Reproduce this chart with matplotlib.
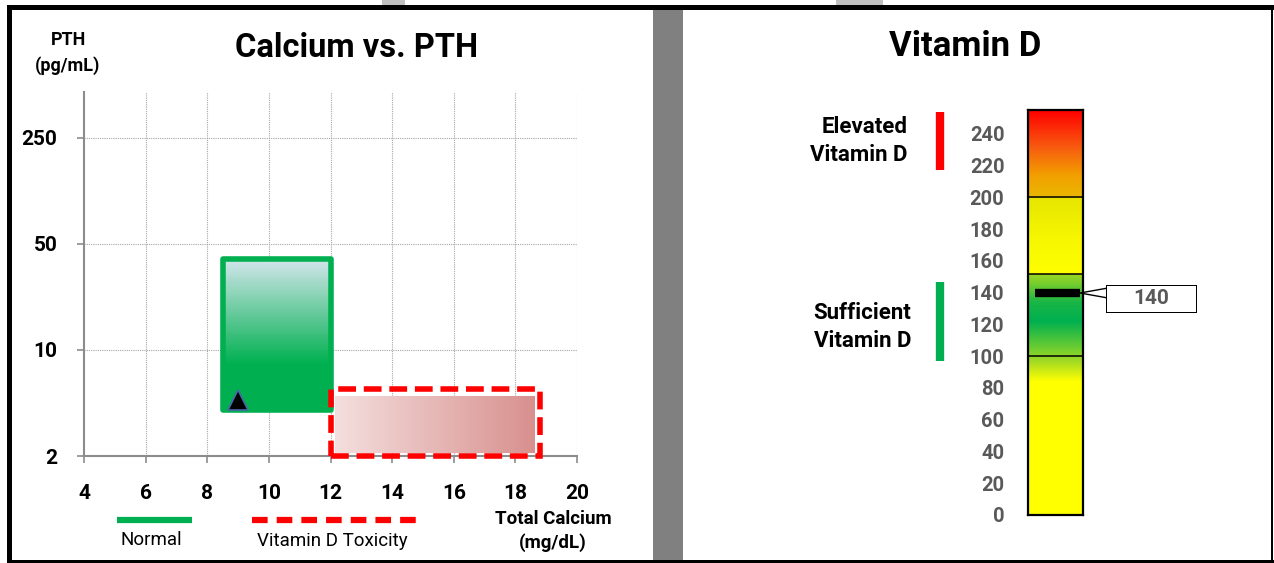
import numpy as np
import matplotlib.pyplot as plt
from matplotlib.patches import Rectangle, Polygon
from matplotlib.lines import Line2D
from matplotlib.colors import to_rgb
import matplotlib.transforms as mtransforms

plt.rcParams['font.family'] = ['Roboto', 'DejaVu Sans']

## Data
ca_ticks = [4, 6, 8, 10, 12, 14, 16, 18, 20]
pth_ticks = [2, 10, 50, 250]
normal_ca = (8.5, 12.0)
normal_pth = (4.0, 40.0)
tox_ca = (12.0, 18.8)
tox_pth = (2.0, 5.5)
patient_ca = 9.0
patient_pth = 4.7

vitd_ticks = list(range(0, 241, 20))
vitd_max = 255
vitd_lines = [100, 152, 200]
vitd_value = 140
elevated_range = (217, 254)
sufficient_range = (97, 147)
# gradient stops of the gauge (value, colour)
grad_vals = [0, 84, 96, 108, 122, 134, 146, 151.9, 152.1, 175, 199.9, 200.1, 214, 232, 255]
grad_cols = ['#ffff00', '#ffff00', '#a8dc22', '#5ac836', '#00b050', '#18b646', '#78ce2c',
             '#9cd822', '#ffff00', '#f6f600', '#e6e600', '#eab800', '#f2a000', '#f85a10', '#ff0000']

W, H = 1274, 563
fig = plt.figure(figsize=(W / 100, H / 100), dpi=100)


def fx(x):
    return x / W


def fy(y):
    return 1 - y / H


def frect(x0, y0, x1, y1, color, z=10):
    fig.add_artist(Rectangle((fx(x0), fy(y1)), fx(x1) - fx(x0), fy(y0) - fy(y1),
                             transform=fig.transFigure, color=color, lw=0, zorder=z))


def mix(c1, c2, t):
    a, b = np.array(to_rgb(c1)), np.array(to_rgb(c2))
    return tuple(a + (b - a) * t)


GRID = '#a6a6a6'
AXC = '#8c8c8c'
DARK = '#595959'

# ---------------- left chart ----------------
ax = fig.add_axes([fx(84), fy(456), fx(577) - fx(84), fy(92) - fy(456)])
ax.set_yscale('log')
ax.set_xlim(4, 20)
ax.set_ylim(2, 500)
ax.set_xticks(ca_ticks)
ax.set_xticklabels([str(v) for v in ca_ticks], fontsize=15, fontweight='bold')
ax.set_yticks(pth_ticks)
ax.set_yticklabels([str(v) for v in pth_ticks], fontsize=15, fontweight='bold')
ax.yaxis.set_minor_locator(plt.NullLocator())
ax.tick_params(axis='x', length=5, width=1.2, color=AXC, pad=15)
ax.tick_params(axis='y', length=5, width=1.2, color=AXC, pad=14)
for s in ['top', 'right']:
    ax.spines[s].set_visible(False)
for s in ['left', 'bottom']:
    ax.spines[s].set_color(AXC)
    ax.spines[s].set_linewidth(1.5)
for v in ca_ticks[1:]:
    ax.axvline(v, color=GRID, lw=0.8, ls=(0, (1, 1)), zorder=1)
for v in pth_ticks[1:]:
    ax.axhline(v, color=GRID, lw=0.8, ls=(0, (1, 1)), zorder=1)

# normal range: vertical gradient light -> green
n = 80
edges = np.geomspace(normal_pth[0], normal_pth[1], n + 1)
for i in range(n):
    t = i / n
    c = '#00b050' if t < 0.3 else mix('#00b050', '#d6e6ee', (t - 0.3) / 0.7)
    ax.bar(normal_ca[0], edges[i + 1] - edges[i], bottom=edges[i],
           width=normal_ca[1] - normal_ca[0], align='edge', color=c, lw=0, zorder=2)
ax.add_patch(Rectangle((normal_ca[0], normal_pth[0]), normal_ca[1] - normal_ca[0],
                       normal_pth[1] - normal_pth[0], fill=False, ec='#00b050', lw=4,
                       joinstyle='round', zorder=3))

# vitamin D toxicity: horizontal gradient, inset inside dashed border
xe = np.linspace(tox_ca[0] + 0.15, tox_ca[1] - 0.15, n + 1)
for i in range(n):
    c = mix('#f3dedd', '#d78f8d', i / n)
    ax.bar(xe[i], tox_pth[1] / 1.1 - tox_pth[0] * 1.04, bottom=tox_pth[0] * 1.04,
           width=xe[i + 1] - xe[i], align='edge', color=c, lw=0, zorder=2)
ax.add_patch(Rectangle((tox_ca[0], tox_pth[0]), tox_ca[1] - tox_ca[0],
                       tox_pth[1] - tox_pth[0], fill=False, ec='#ff0000', lw=4,
                       ls=(0, (3.2, 1.4)), clip_on=False, zorder=4))

ax.plot(patient_ca, patient_pth, marker='^', ms=14, mfc='black', mec='#4a66a8',
        mew=1.2, ls='none', zorder=5)

fig.text(fx(357), fy(48), 'Calcium vs. PTH', ha='center', va='center',
         fontsize=23.5, fontweight='bold')
fig.text(fx(68), fy(53), 'PTH\n(pg/mL)', ha='center', va='center',
         fontsize=13, fontweight='bold', linespacing=1.45)
fig.text(fx(553), fy(531), 'Total Calcium\n(mg/dL)', ha='center', va='center',
         fontsize=13.5, fontweight='bold', linespacing=1.4)

# custom legend under the axis
fig.add_artist(Line2D([fx(117), fx(192)], [fy(520), fy(520)], color='#00b050', lw=4.5,
                      solid_capstyle='butt', transform=fig.transFigure))
fig.add_artist(Line2D([fx(252), fx(423)], [fy(520), fy(520)], color='#ff0000', lw=4.5,
                      ls=(0, (2.5, 1.45)), transform=fig.transFigure))
fig.text(fx(151), fy(540), 'Normal', ha='center', va='center', fontsize=13.5)
fig.text(fx(332), fy(541), 'Vitamin D Toxicity', ha='center', va='center', fontsize=13.5)

# ---------------- right gauge ----------------
gx = fig.add_axes([fx(1028), fy(515), fx(1083) - fx(1028), fy(515 - vitd_max * 1.588) - fy(515)])
gx.set_xlim(0, 1)
gx.set_ylim(0, vitd_max)
ys = np.linspace(0, vitd_max, 400)
rgb = np.array([to_rgb(c) for c in grad_cols])
img = np.stack([np.interp(ys, grad_vals, rgb[:, k]) for k in range(3)], axis=1)[:, None, :]
gx.imshow(img, aspect='auto', origin='lower', extent=(0, 1, 0, vitd_max),
          interpolation='bilinear', zorder=1)
for v in vitd_lines:
    gx.axhline(v, color='black', lw=1.1, zorder=3)
gx.set_xticks([])
gx.set_yticks(vitd_ticks)
gx.set_yticklabels([str(v) for v in vitd_ticks], fontsize=14.5, fontweight='bold', color=DARK)
gx.tick_params(axis='y', length=0, pad=17)
for s in gx.spines.values():
    s.set_linewidth(1.6)
    s.set_color('black')
gx.plot([0.13, 0.95], [vitd_value, vitd_value], color='black', lw=6,
        solid_capstyle='butt', zorder=4)

# callout for the value
fig.add_artist(Polygon([(fx(1080), fy(293)), (fx(1108), fy(288)), (fx(1108), fy(298))],
                       closed=True, fc='white', ec='black', lw=1, transform=fig.transFigure,
                       zorder=5))
frect(1106, 285, 1197, 313, 'black', z=6)
frect(1107, 286, 1196, 312, 'white', z=7)
fig.text(fx(1151), fy(299), str(vitd_value), ha='center', va='center', fontsize=15,
         fontweight='bold', color=DARK, zorder=8)

# range markers left of the gauge
tr = mtransforms.blended_transform_factory(fig.transFigure, gx.transData)
fig.add_artist(Line2D([fx(940), fx(940)], list(elevated_range), color='#ff0000', lw=6,
                      solid_capstyle='butt', transform=tr))
fig.add_artist(Line2D([fx(940), fx(940)], list(sufficient_range), color='#00b050', lw=6,
                      solid_capstyle='butt', transform=tr))
fig.text(fx(908), fy(141), 'Elevated\nVitamin D', ha='right', va='center',
         fontsize=16, fontweight='bold', linespacing=1.3)
fig.text(fx(911), fy(327), 'Sufficient\nVitamin D', ha='right', va='center',
         fontsize=16, fontweight='bold', linespacing=1.3)
fig.text(fx(965), fy(46), 'Vitamin D', ha='center', va='center',
         fontsize=25, fontweight='bold')

# ---------------- frame ----------------
frect(7, 5, W, 10, 'black')
frect(7, 5, 12, 563, 'black')
frect(7, 560, W, 563, 'black')
frect(1271, 5, 1273, 563, 'black')
frect(653, 10, 683, 560, '#808080')
frect(382, 0, 405, 5, '#c0c0c0')
frect(836, 0, 883, 5, '#c0c0c0')

fig.savefig('out.png', dpi=100)
